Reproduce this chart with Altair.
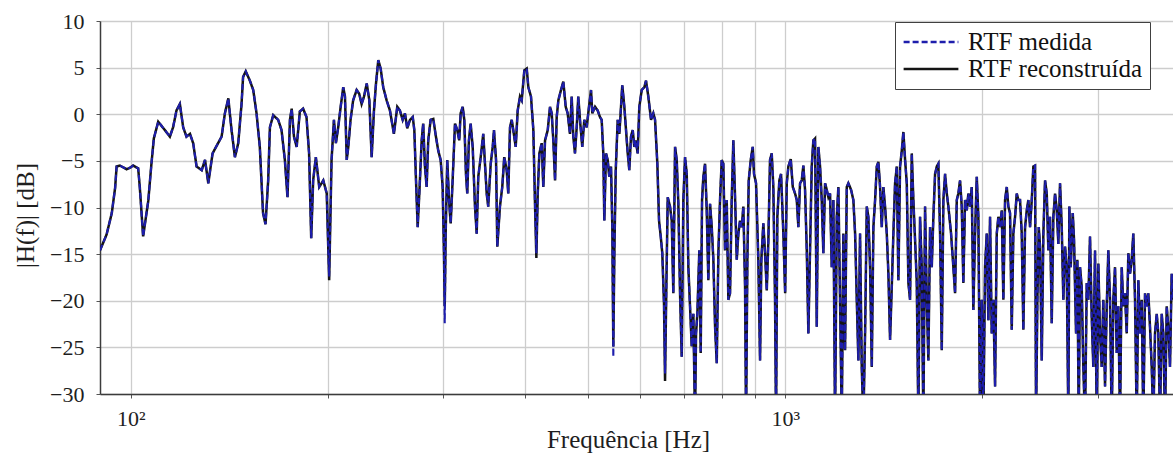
import altair as alt
import pandas as pd

# ---------------- data ----------------
# frequency [Hz] and level [dB] of the measured RTF, split by band
freq_lo = [89.7, 91.8, 93.5, 94.6, 95.1, 96.2, 98.5, 99.9, 100.8, 102.6, 103.2, 104.4, 106.3, 107.5,
           108.4, 110.1, 112.7, 114.7, 116.0, 117.4, 118.8, 120.2, 121.6, 123.1, 124.5, 126.0, 128.3,
           129.8, 131.3, 133.3, 135.9, 137.6, 139.2, 140.9, 142.5, 144.2, 145.9, 147.6, 148.4, 149.8,
           152.0, 153.8, 155.6, 157.4, 159.2, 160.6, 162.1, 163.1, 165.0, 167.9, 169.9, 171.9, 173.5,
           175.0, 176.1, 177.5, 179.2, 181.2, 183.3, 185.5, 187.2, 188.6, 189.9, 191.7, 194.0, 196.8,
           199.2, 200.5, 200.9]
db_lo = [-14.6, -12.9, -10.6, -7.9, -5.6, -5.5, -5.9, -5.7, -5.5, -5.8, -7.9, -13.1, -9.3, -5.3,
         -2.6, -0.8, -1.7, -2.4, -1.4, 0.4, 1.1, -1.4, -2.4, -2.1, -3.1, -5.6, -6.0,
         -4.9, -7.4, -4.2, -3.1, -2.4, 0.1, 1.7, -1.7, -4.6, -3.1, 1.1, 4.0, 4.6,
         3.6, 2.6, 0.1, -3.5, -10.6, -11.8, -7.1, -1.4, -0.1, -0.6, -1.7, -4.9, -8.9,
         -0.6, 0.6, -2.4, -3.5, 0.3, 0.6, -0.3, -4.2, -13.3, -7.1, -4.6, -7.8, -7.1,
         -8.5, -15.6, -17.4]

freq_m1 = [202.6, 204.3, 205.7, 207.4, 209.2, 211.1, 212.4, 213.7, 214.9, 216.6, 218.6, 221.3, 223.3,
           225.2, 227.1, 229.3, 231.4, 233.3, 235.2, 236.9, 238.8, 240.8, 243.0, 245.9, 248.8, 252.3,
           255.3, 257.7, 260.2, 262.3, 264.4, 267.0, 269.6, 271.1, 272.7, 274.3, 275.9, 278.2, 279.7,
           281.4, 283.1, 284.7, 287.1, 289.8, 292.5, 294.9, 297.4, 299.5, 300.9, 301.7, 302.7, 304.4,
           306.3, 308.1, 310.2, 312.8, 315.3, 317.5, 319.1, 321.4, 323.2, 325.1, 326.6, 328.5, 330.5,
           332.9, 335.6, 337.6, 339.5, 342.4, 345.5, 347.6, 349.7, 351.6, 354.7, 357.2, 358.8, 361.4,
           363.0]
db_m1 = [-4.9, -0.6, -3.1, -1.4, 0.8, 2.9, 1.9, -4.9, -3.5, -0.6, 1.5, 2.6, 2.2,
         1.1, 1.9, 3.3, 1.5, -4.6, 0.4, 3.3, 5.8, 4.9, 2.9, 1.5, 0.4, -2.1,
         0.8, 0.4, -0.6, 0.1, -1.5, -0.6, -0.3, -1.7, -7.1, -12.1, -8.5, -2.8, -1.0,
         -5.6, -7.8, -2.8, -0.6, -0.5, -2.4, -3.9, -4.9, -7.8, -14.9, -22.4, -12.8, -4.9,
         -9.2, -11.7, -7.1, -1.0, -1.7, -2.8, 0.1, 0.8, -0.6, -6.4, -8.5, -2.8, -1.0,
         -3.5, -9.9, -12.8, -6.7, -4.6, -2.1, -5.3, -8.5, -9.9, -5.3, -3.5, -1.7, -4.9,
         -14.2]

freq_m2 = [366.4, 369.4, 372.0, 375.2, 377.3, 379.6, 381.9, 384.0, 387.3, 390.0, 393.2, 395.6, 399.2,
           402.6, 404.9, 408.7, 412.1, 414.5, 416.5, 418.5, 420.9, 424.4, 426.8, 429.4, 433.5, 437.0,
           439.6, 442.1, 444.8, 447.4, 450.0, 454.2, 457.9, 461.8, 465.0, 468.8, 471.6, 474.3, 477.1,
           480.0, 482.7, 485.6, 489.5, 493.0, 497.2, 501.2, 504.8, 507.1, 512.0, 516.8, 521.0, 524.1,
           527.1, 529.0, 532.1, 535.3, 538.3, 541.6, 544.1, 546.0, 548.0, 550.7, 554.5, 557.7, 561.0,
           563.5, 567.6, 571.0, 574.4, 577.6, 581.0, 584.6, 587.9, 590.8, 594.9, 598.3, 603.4, 609.0,
           612.6, 617.6, 623.5, 628.6, 632.4, 637.5, 641.3, 645.1, 648.7, 652.6, 655.0, 658.0, 661.2,
           666.6, 670.6, 674.4]
db_m2 = [-9.9, -7.8, -4.6, -6.0, -8.5, -1.4, -0.6, -1.7, -3.5, 0.4, 1.9, 1.5, 4.7,
         4.9, 2.9, 1.9, -1.7, -9.6, -14.9, -8.5, -4.2, -3.1, -7.8, -2.8, -1.7, 0.8,
         0.1, -2.8, -7.1, -0.3, 1.5, 2.6, 3.5, 0.8, 0.1, -2.1, 1.9, -2.4, -4.2,
         -1.4, 1.9, -0.6, -3.5, -0.6, -1.4, 0.8, 2.6, 0.1, 0.8, 0.4, -0.3, -0.6,
         -4.2, -11.4, -4.2, -4.9, -6.7, -5.6, -12.1, -26.0, -14.9, -6.0, -0.6, -2.1, 0.8,
         3.1, 0.8, -1.7, -4.2, -6.0, -2.4, -1.7, -3.5, -2.8, -4.2, 0.8, 2.6, 2.9,
         3.6, 1.9, -0.6, 0.1, -0.6, -5.3, -11.4, -13.1, -14.9, -20.3, -27.8, -18.6, -8.9,
         -9.9, -11.4, -19.2]

freq_h1 = [678.5, 682.5, 686.4, 690.5, 694.6, 698.6, 702.8, 707.0, 711.0, 715.2, 719.5, 723.6, 727.9,
           730.5, 733.9, 739.0, 742.6, 746.1, 749.5, 754.0, 758.5, 762.8, 767.4, 772.0, 776.4, 781.1,
           785.7, 790.2, 794.8, 799.6, 804.1, 808.9, 813.8, 818.4, 823.3, 828.2, 832.9, 838.0, 843.0,
           847.8, 852.8, 857.9, 862.8, 868.0, 871.1, 875.1, 879.3, 885.5, 891.8, 895.8, 902.2, 909.5,
           915.0, 919.2, 925.7, 931.3, 936.9, 942.2, 947.7, 953.4, 958.8, 964.6, 968.0, 972.4, 979.3,
           985.2, 993.2, 999.5, 1005.2, 1010.9, 1019.4, 1026.7, 1035.0, 1041.2, 1047.1, 1053.3, 1059.6,
           1065.6, 1072.0, 1078.5, 1084.6, 1091.0, 1097.5, 1103.8, 1110.4, 1117.1, 1123.4, 1130.1,
           1136.9, 1143.3, 1150.2, 1157.1, 1163.7, 1170.6, 1177.6, 1184.3, 1191.4, 1198.6, 1205.4,
           1212.5, 1219.8, 1226.7, 1234.1]
db_h1 = [-3.5, -4.9, -9.6, -19.2, -26.0, -9.2, -4.6, -6.4, -16.4, -20.6, -24.9, -21.4, -33,
         -23.5, -21.4, -14.6, -25.6, -9.2, -6.7, -5.3, -10.3, -17.8, -9.6, -12.1, -15.6, -22.8,
         -26.7, -14.9, -9.2, -4.9, -5.3, -14.6, -9.2, -19.9, -19.2, -9.2, -2.8, -8.9, -15.6,
         -12.8, -11.4, -12.1, -9.9, -18.5, -33, -15.6, -7.1, -4.9, -3.5, -6.4, -7.4, -15.6,
         -26.4, -15.6, -11.7, -14.9, -18.9, -13.5, -4.9, -4.2, -7.8, -19.9, -33, -11.0, -7.1,
         -6.4, -12.8, -19.2, -7.4, -5.6, -4.8, -7.8, -8.5, -9.2, -12.1, -7.4, -7.1,
         -5.5, -8.1, -14.6, -23.5, -14.6, -5.6, -2.8, -2.6, -22.8, -3.5, -5.6,
         -9.2, -14.9, -7.4, -8.1, -8.9, -8.5, -16.4, -9.2, -33, -11.0, -7.8,
         -19.9, -33, -12.8, -25.3]

freq_h2 = [1241.5, 1248.5, 1260.4, 1270.7, 1278.4, 1286.0, 1293.3, 1300.9, 1308.7, 1316.1, 1324.1,
           1332.0, 1339.5, 1347.6, 1355.7, 1363.4, 1371.6, 1379.8, 1387.6, 1395.8, 1404.2, 1412.1,
           1420.6, 1429.2, 1437.3, 1445.8, 1454.5, 1462.7, 1471.5, 1480.4, 1488.7, 1497.6, 1506.6,
           1515.1, 1524.3, 1533.4, 1542.1, 1551.2, 1560.5, 1569.3, 1578.8, 1588.3, 1597.3, 1606.7,
           1616.3, 1625.5, 1635.3, 1645.1, 1654.4, 1664.3, 1674.3, 1683.8, 1693.9, 1704.1, 1713.7,
           1723.9, 1734.2, 1744.1, 1754.6, 1765.1, 1775.1, 1791.9, 1806.5, 1817.4, 1828.3, 1838.6,
           1849.5, 1860.6, 1871.1, 1882.4, 1893.7, 1904.4, 1915.7, 1927.2, 1938.1, 1949.8, 1961.5,
           1972.6, 1984.3, 1996.2, 2007.5, 2019.6, 2031.7, 2043.2, 2055.4, 2067.7, 2079.4, 2092.0,
           2104.5, 2116.4, 2129.0, 2141.8, 2153.9, 2166.9, 2179.9, 2192.2, 2205.2, 2218.4, 2231.0,
           2244.5, 2257.9, 2270.7]
db_h2 = [-7.8, -7.4, -8.1, -9.2, -12.8, -19.9, -26.4, -12.8, -27.1, -33, -23.5,
         -9.9, -11.0, -16.4, -27.1, -12.1, -9.2, -5.6, -5.1, -7.8, -12.1, -7.8,
         -9.9, -12.8, -17.1, -24.2, -18.5, -12.8, -7.4, -5.6, -17.8, -5.6, -3.9,
         -1.9, -4.9, -7.4, -18.1, -19.9, -4.2, -9.2, -13.5, -18.1, -33, -11.0,
         -16.4, -33, -9.9, -19.9, -26.4, -12.1, -16.4, -11.0, -6.4, -5.6, -5.3,
         -12.8, -25.3, -9.2, -6.4, -8.5, -9.9, -12.8, -16.4, -19.2, -9.2, -8.5,
         -7.1, -9.9, -18.1, -9.2, -10.3, -8.5, -9.9, -7.8, -21.0, -12.8, -6.7,
         -11.0, -33, -19.9, -33, -16.4, -12.8, -22.1, -11.0, -23.5, -19.9, -29.2,
         -12.8, -11.0, -12.1, -10.3, -19.9, -9.2, -7.8, -9.9, -10.6, -23.1, -12.8,
         -11.0, -8.5, -9.2]

freq_h3 = [2284.2, 2297.9, 2310.9, 2324.9, 2338.8, 2352.0, 2366.0, 2380.2, 2393.7, 2408.1, 2416.6,
           2427.8, 2439.6, 2450.7, 2465.4, 2479.4, 2494.3, 2509.3, 2523.5, 2538.4, 2553.6, 2568.1,
           2583.6, 2599.1, 2613.8, 2629.3, 2645.1, 2660.1, 2676.1, 2692.1, 2707.4, 2716.9, 2730.2,
           2749.5, 2762.1, 2781.7, 2794.5, 2808.1, 2820.9, 2837.8, 2853.9, 2871.1, 2888.3, 2904.7,
           2921.9, 2939.4, 2956.1, 2973.9, 2991.7, 3008.7, 3026.5, 3044.7, 3061.9, 3080.4, 3098.8,
           3116.4, 3134.9, 3153.7, 3171.6, 3190.7, 3209.8, 3228.0, 3247.1, 3266.6, 3285.1, 3304.9,
           3324.7, 3343.5, 3363.4, 3383.6, 3402.8, 3423.3, 3443.8, 3463.3, 3483.8, 3504.7, 3524.6,
           3545.8, 3567.1, 3587.3, 3608.5, 3630.2, 3650.7, 3672.7, 3694.7, 3715.7, 3737.7, 3760.1,
           3781.4, 3804.2, 3827.0, 3848.7, 3871.5, 3894.7, 3912.6]
db_h3 = [-9.2, -12.8, -23.1, -12.1, -10.3, -9.2, -12.1, -9.2, -5.6, -5.5, -33,
         -19.9, -12.1, -14.2, -26.4, -12.8, -7.1, -8.5, -14.6, -11.0, -22.4, -11.0,
         -8.5, -10.3, -13.9, -7.4, -12.1, -19.9, -14.2, -16.4, -33, -9.9, -16.4,
         -10.6, -13.5, -23.5, -15.6, -33, -16.4, -18.5, -27.1, -33, -18.1, -19.9,
         -13.1, -21.7, -27.1, -14.6, -33, -16.0, -23.5, -27.1, -19.9, -29.2, -20.6,
         -14.6, -19.9, -33, -19.9, -16.4, -25.6, -20.6, -33, -16.4, -20.6, -19.2,
         -23.5, -14.9, -17.1, -15.6, -12.8, -19.9, -33, -17.8, -23.5, -19.9, -33,
         -19.2, -20.6, -19.2, -22.8, -27.1, -33, -23.5, -21.4, -23.5, -33, -21.4,
         -23.5, -33, -20.6, -22.8, -27.1, -17.1, -19.9]

# reconstructed RTF: follows the measured one, except at a few notches
recon_overrides = {200.9: -17.8, 301.7: -20.6, 416.5: -15.4, 546.0: -24.9, 655.0: -28.6}

series_names = ["RTF medida", "RTF reconstruída"]
x_grid = [100, 200, 300, 400, 500, 600, 700, 800, 900, 1000, 2000, 3000]
y_ticks = [-30, -25, -20, -15, -10, -5, 0, 5, 10]

# ---------------- assemble ----------------
freq = freq_lo + freq_m1 + freq_m2 + freq_h1 + freq_h2 + freq_h3
db = db_lo + db_m1 + db_m2 + db_h1 + db_h2 + db_h3
assert len(freq) == len(db), (len(freq), len(db))

recon_db = [recon_overrides.get(f, v) for f, v in zip(freq, db)]
df = pd.concat([
    pd.DataFrame({"freq": freq, "db": recon_db, "serie": series_names[1]}),
    pd.DataFrame({"freq": freq, "db": db, "serie": series_names[0]}),
], ignore_index=True)

SERIF = "Times New Roman, Liberation Serif, Tinos, serif"

legend = alt.Legend(
    title=None, orient="none", legendX=795, legendY=1,
    symbolType="stroke", symbolSize=3000, symbolStrokeWidth=2.6,
    labelFont=SERIF, labelFontSize=25, labelColor="#111", labelOffset=8,
    labelLimit=400,
    clipHeight=26, rowPadding=1, padding=7,
    strokeColor="#404040", fillColor="white",
)

color = alt.Color("serie:N", scale=alt.Scale(domain=series_names, range=["#1e1eac", "#141414"]),
                  legend=legend)
dash = alt.StrokeDash("serie:N", scale=alt.Scale(domain=series_names, range=[[6, 3], [1, 0]]),
                      legend=legend)

x = alt.X(
    "freq:Q",
    scale=alt.Scale(type="log", domain=[89.7, 3912.6], nice=False),
    axis=alt.Axis(
        values=x_grid,
        labelExpr="datum.value == 100 ? '10²' : (datum.value == 1000 ? '10³' : '')",
        labelFlush=False, labelOverlap=False,
        title="Frequência [Hz]", titleX=528, titleY=53, titleBaseline="alphabetic",
        titleAlign="center",
    ),
)
y = alt.Y(
    "db:Q",
    scale=alt.Scale(domain=[-30, 10], nice=False),
    axis=alt.Axis(values=y_ticks, title="|H(f)| [dB]", titleX=-75, titleY=194,
                  titleBaseline="middle", titleAlign="center", labelPadding=12),
)

recon_layer = alt.Chart(df).transform_filter(
    alt.datum.serie == series_names[1]
).mark_line(clip=True, strokeWidth=2.5).encode(x=x, y=y, color=color, strokeDash=dash)

meas_layer = alt.Chart(df).transform_filter(
    alt.datum.serie == series_names[0]
).mark_line(clip=True, strokeWidth=2.1).encode(x=x, y=y, color=color, strokeDash=dash)

chart = alt.layer(recon_layer, meas_layer).properties(
    width=1073, height=373,
    autosize=alt.AutoSizeParams(type="none"),
    padding={"left": 100, "top": 21, "right": 0, "bottom": 59},
    background="white",
).configure_view(
    stroke=None
).configure_axis(
    grid=True, gridColor="#cdcdcd", gridWidth=1.3,
    domainColor="#3c3c3c", domainWidth=1.5,
    tickColor="#555", tickSize=4, tickWidth=1,
    labelFont=SERIF, labelFontSize=22, labelColor="#1e1e1e",
    titleFont=SERIF, titleFontSize=25, titleFontWeight="normal", titleColor="#1e1e1e",
).configure_axisX(
    labelPadding=10,
)

chart.save("out.html", embed_options={"renderer": "svg", "actions": False})
